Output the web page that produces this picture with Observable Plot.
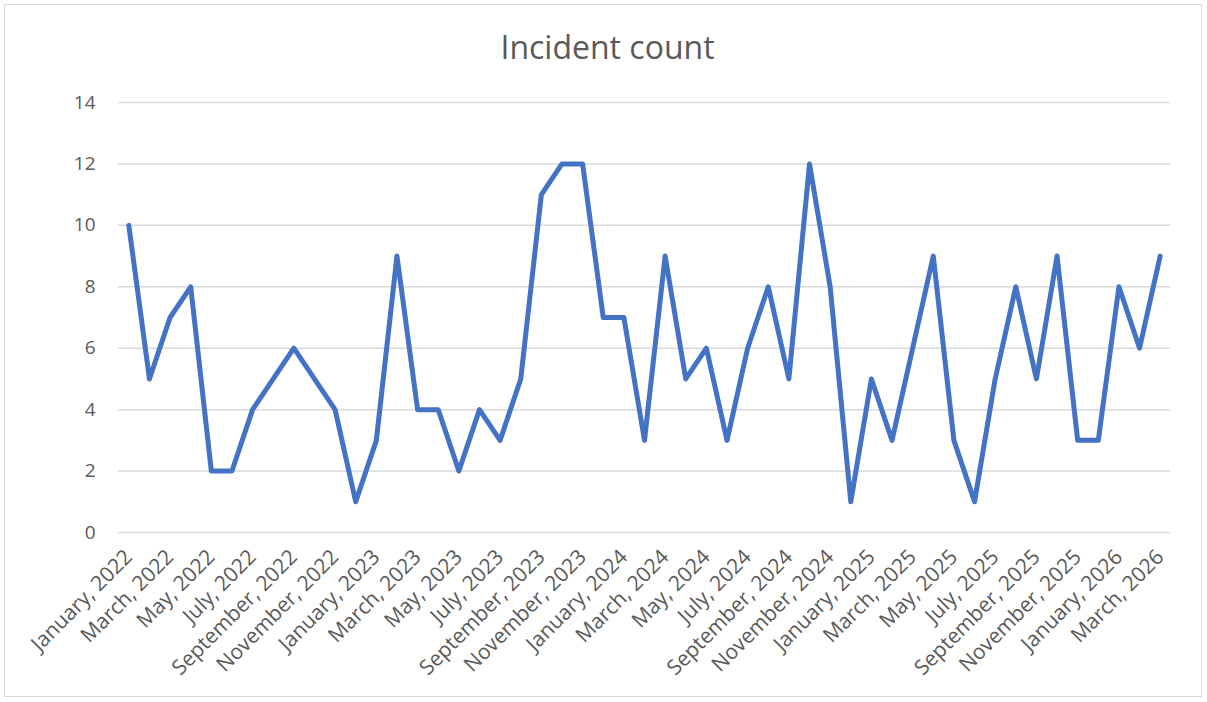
<!DOCTYPE html>
<html>
<head>
<meta charset="utf-8">
<script src="https://cdn.jsdelivr.net/npm/d3@7"></script>
<script src="https://cdn.jsdelivr.net/npm/@observablehq/plot@0.6"></script>
<style>
  html, body { margin: 0; padding: 0; background: #fff; }
  #wrap { position: relative; width: 1207px; height: 702px; overflow: hidden; font-family: "Open Sans", "Noto Sans", sans-serif; }
  #frame { position: absolute; left: 4px; top: 4px; width: 1198px; height: 693px; border: 1px solid #d9d9d9; box-sizing: border-box; pointer-events: none; }
  #title { position: absolute; left: 0; width: 1215px; top: 25px; text-align: center; font-size: 32px; color: #595959; font-family: "Open Sans", sans-serif; }
  #chart { position: absolute; left: 0; top: 0; }
</style>
</head>
<body>
<div id="wrap">
  <div id="frame"></div>
  <div id="chart"></div>
  <div id="title">Incident count</div>
</div>
<script>
const monthNames = ["January","February","March","April","May","June","July","August","September","October","November","December"];
const years = [2022, 2023, 2024, 2025, 2026];
const counts = [
  10, 5, 7, 8, 2, 2, 4, 5, 6, 5, 4, 1,   // 2022
  3, 9, 4, 4, 2, 4, 3, 5, 11, 12, 12, 7, // 2023
  7, 3, 9, 5, 6, 3, 6, 8, 5, 12, 8, 1,   // 2024
  5, 3, 6, 9, 3, 1, 5, 8, 5, 9, 3, 3,    // 2025
  8, 6, 9                                 // 2026
];
const yTicks = [0, 2, 4, 6, 8, 10, 12, 14];

const months = [];
for (const y of years) for (const m of monthNames) months.push(`${m}, ${y}`);
const labels = months.slice(0, counts.length);
const data = labels.map((label, i) => ({label, count: counts[i]}));
const shownTicks = labels.filter((d, i) => i % 2 === 0);

const chart = Plot.plot({
  width: 1207,
  height: 702,
  marginTop: 102,
  marginBottom: 170,
  marginLeft: 118,
  marginRight: 37,
  style: {fontFamily: "'Open Sans', sans-serif", color: "#595959", background: "transparent"},
  x: {type: "point", domain: labels, padding: 0.5},
  y: {domain: [0, 14]},
  marks: [
    Plot.gridY(yTicks, {stroke: "#d9d9d9", strokeOpacity: 1, strokeWidth: 1.5}),
    Plot.axisY(yTicks, {tickSize: 0, tickPadding: 23, fontSize: 19, fill: "#595959", label: null}),
    Plot.axisX(shownTicks, {tickSize: 0, tickPadding: 21, tickRotate: -45, fontSize: 21, fill: "#595959", label: null}),
    Plot.line(data, {x: "label", y: "count", stroke: "#4472C4", strokeWidth: 5, strokeLinejoin: "round", strokeLinecap: "round"})
  ]
});
document.getElementById("chart").appendChild(chart);
</script>
</body>
</html>
